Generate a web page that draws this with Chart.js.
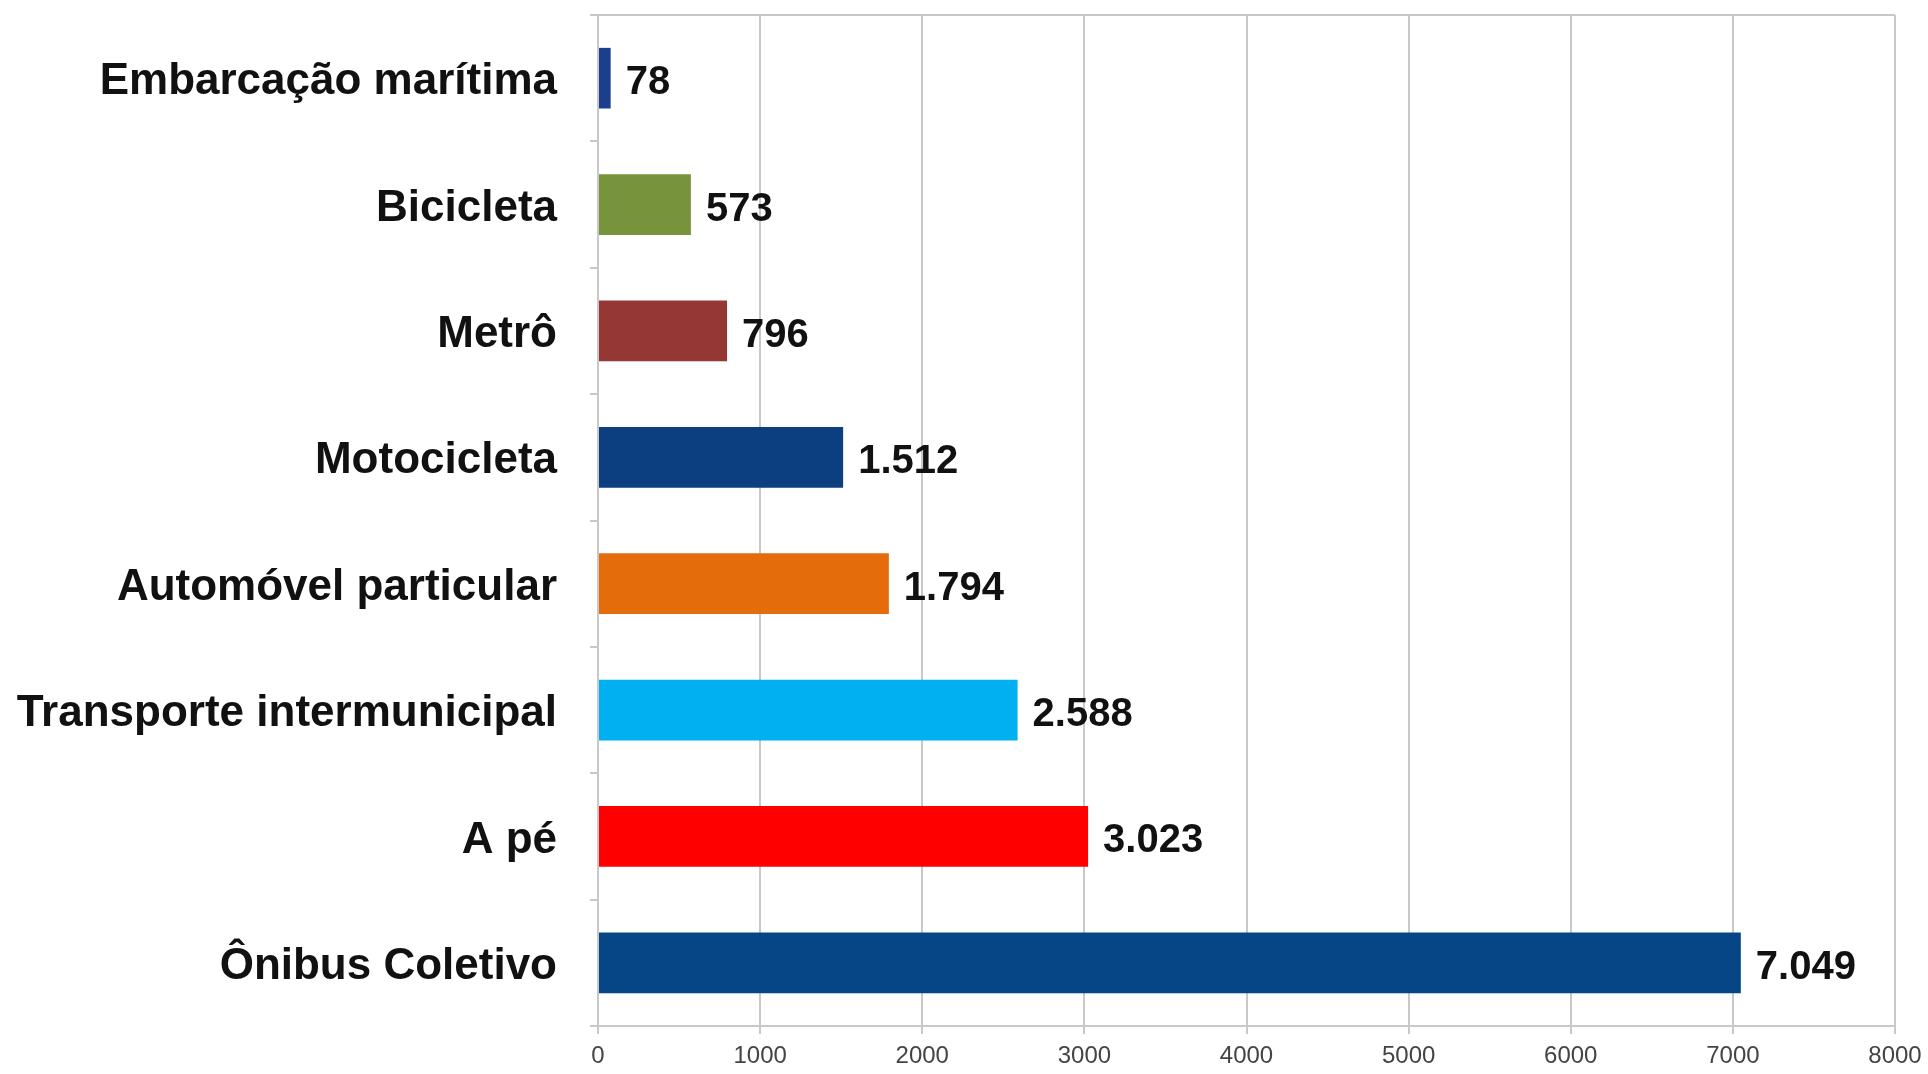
<!DOCTYPE html>
<html lang="pt-BR">
<head>
<meta charset="utf-8">
<title>Modos de transporte</title>
<script src="https://cdn.jsdelivr.net/npm/chart.js@4.4.1/dist/chart.umd.min.js"></script>
<style>
  html, body { margin:0; padding:0; background:#fff; }
  #wrap { width:1928px; height:1074px; position:relative; }
</style>
</head>
<body>
<div id="wrap"><canvas id="chartBar"></canvas></div>
<script>
// Dados do gráfico (de cima para baixo)
const categorias = ['Embarcação marítima', 'Bicicleta', 'Metrô', 'Motocicleta',
  'Automóvel particular', 'Transporte intermunicipal', 'A pé', 'Ônibus Coletivo'];
const valores = [78, 573, 796, 1512, 1794, 2588, 3023, 7049];
const cores = ['#1b3f8c', '#77933c', '#953735', '#0b3f80', '#e46c0a', '#00b0f0', '#ff0000', '#064687'];
const ticksX = [0, 1000, 2000, 3000, 4000, 5000, 6000, 7000, 8000];

function fmt(n){
  // separador de milhar com ponto
  return String(n).replace(/\B(?=(\d{3})+(?!\d))/g, '.');
}

// rótulos de valor ao lado das barras
const rotulos = {
  id: 'rotulos',
  afterDatasetsDraw(chart){
    const ctx = chart.ctx;
    const meta = chart.getDatasetMeta(0);
    ctx.save();
    ctx.font = 'bold 40px "Liberation Sans", Arial, sans-serif';
    ctx.fillStyle = '#111';
    ctx.textBaseline = 'middle';
    ctx.textAlign = 'left';
    meta.data.forEach((bar, i) => {
      ctx.fillText(fmt(valores[i]), bar.x + 15, bar.y + 5);
    });
    ctx.restore();
  }
};

// linha superior do quadro
const moldura = {
  id: 'moldura',
  beforeDatasetsDraw(chart){
    const {ctx, chartArea:a} = chart;
    ctx.save();
    ctx.strokeStyle = '#c8c8c8';
    ctx.lineWidth = 2;
    ctx.beginPath();
    ctx.moveTo(a.left, a.top);
    ctx.lineTo(a.right, a.top);
    ctx.stroke();
    ctx.restore();
  }
};

function semPadding(s){
  s.paddingTop = 0; s.paddingBottom = 0; s.paddingLeft = 0; s.paddingRight = 0;
}

Chart.defaults.font.family = '"Liberation Sans", Arial, sans-serif';
Chart.defaults.plugins.legend.display = false;
Chart.defaults.plugins.tooltip.enabled = false;

new Chart(document.getElementById('chartBar'), {
  type: 'bar',
  data: {
    labels: categorias,
    datasets: [{
      data: valores,
      backgroundColor: cores,
      barPercentage: 0.48,
      categoryPercentage: 1
    }]
  },
  options: {
    indexAxis: 'y',
    responsive: true,
    maintainAspectRatio: false,
    animation: false,
    layout: { padding: { top: 15, right: 33, bottom: 0, left: 0 } },
    scales: {
      x: {
        min: 0, max: 8000,
        afterBuildTicks: s => { s.ticks = ticksX.map(v => ({value: v})); },
        grid: { color: '#c8c8c8', lineWidth: 2, tickLength: 8, tickColor: '#c8c8c8' },
        border: { color: '#c8c8c8', width: 2 },
        ticks: { color: '#444', font: { size: 24 }, padding: 8, maxRotation: 0, callback: v => String(v) },
        afterFit: s => { s.height = 48; semPadding(s); }
      },
      y: {
        grid: { offset: true, drawOnChartArea: false, tickLength: 8, color: '#c8c8c8', lineWidth: 2 },
        border: { color: '#c8c8c8', width: 2 },
        ticks: { color: '#111', font: { size: 44, weight: 'bold' }, padding: 33, autoSkip: false, labelOffset: 4 },
        afterFit: s => { s.width = 598; semPadding(s); }
      }
    }
  },
  plugins: [moldura, rotulos]
});
</script>
</body>
</html>
